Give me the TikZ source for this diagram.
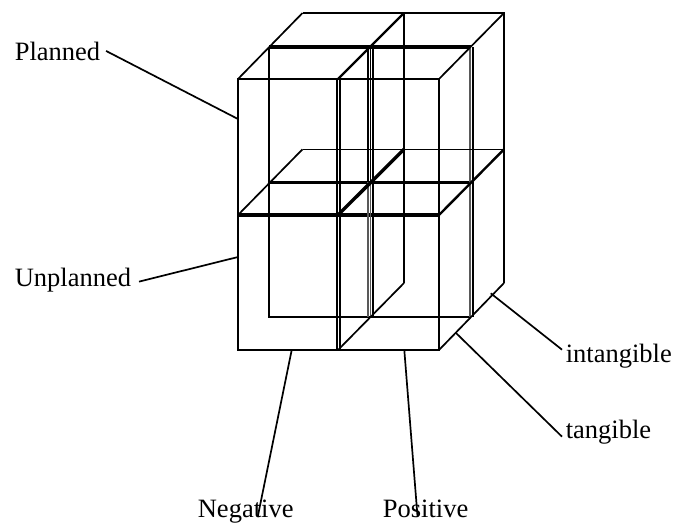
\documentclass[tikz,border=0pt]{standalone}
\usepackage{fontspec}
\setmainfont{Liberation Serif}
\usepackage{tikz}

\begin{document}
\begin{tikzpicture}[x=1pt, y=-1pt, line width=1.7pt, every node/.style={font=\fontsize{26.5}{30}\selectfont, inner sep=0pt},
	lbl/.style={anchor=base west}, heavy/.style={line width=3.3pt}, edge/.style={line width=1.4pt, black!65}]
	\useasboundingbox (0,0) rectangle (674,523);
	% front
	\draw (238,79) rectangle (439,350);
	\draw[heavy] (238,215) -- (439,215);
	\draw (337,79) -- (337,350);
	\draw (340,79) -- (340,350);
	% middle
	\draw[heavy] (269,47) -- (471,47);
	\draw[heavy] (269,182.7) -- (471,182.7);
	\draw (269,47) -- (269,317) -- (471,317);
	\draw (368,47) -- (368,182);
	\draw[edge] (368,182) -- (368,317);
	\draw (373.2,47) -- (373.2,317);
	\draw[edge] (370.6,182) -- (370.6,317);
	\draw (370.6,47) -- (370.6,182);
	\draw (473,47) -- (473,317);
	\draw[edge] (470,47) -- (470,317);
	% back
	\draw (302.5,13) -- (504,13) -- (504,283);
	\draw[line width=1.5pt] (302.5,149.6) -- (504,149.6);
	\draw (404,13) -- (404,283);
	% depth
	\draw (238,79) -- (302.5,13);
	\draw[line width=2.4pt] (338,79) -- (404,13);
	\draw (439,79) -- (504,13);
	\draw (238,215) -- (302.5,149.3);
	\draw[line width=3.4pt] (338,215) -- (404,149.3);
	\draw[line width=2.4pt] (439,215) -- (504,149.3);
	\draw (338,350) -- (404,283);
	\draw (439,350) -- (504,283);
	% labels
	\node[lbl] (planned) at (14,60) {Planned};
	\node[lbl] (unplanned) at (14,286) {Unplanned};
	\node[lbl] (negative) at (197,517) {Negative};
	\node[lbl] (positive) at (382,517) {Positive};
	\node[lbl] (intangible) at (565,362) {intangible};
	\node[lbl] (tangible) at (565,438) {tangible};
	\coordinate (plannedend) at (238,119);
	\coordinate (unplannedend) at (238,257);
	\coordinate (negativeend) at (291.7,350);
	\coordinate (positiveend) at (404.3,350);
	\coordinate (intangibleend) at (490.7,293.3);
	\coordinate (tangibleend) at (456,333);
	\draw ([xshift=5pt]planned.east) -- (plannedend);
	\draw ([xshift=7pt,yshift=-2pt]unplanned.east) -- (unplannedend);
	\draw ([xshift=12pt]negative.base) -- (negativeend);
	\draw ([xshift=-8pt]positive.base) -- (positiveend);
	\draw ([xshift=-3pt,yshift=6pt]intangible.west) -- (intangibleend);
	\draw ([xshift=-3pt,yshift=-5pt]tangible.west) -- (tangibleend);
\end{tikzpicture}
\end{document}
